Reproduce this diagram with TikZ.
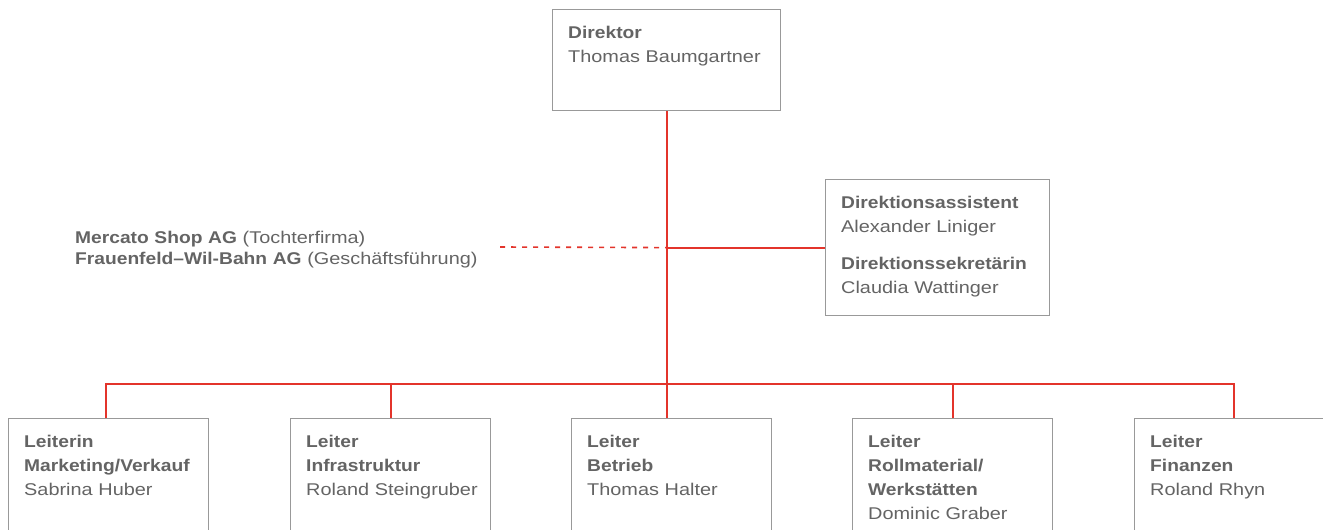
\documentclass[tikz,border=0pt]{standalone}
\usepackage{fontspec}
\setmainfont{Liberation Sans}[FakeStretch=1.17]
\newfontfamily\boldf{Liberation Sans Bold}[FakeStretch=1.13]
\newcommand{\bld}[1]{{\boldf #1}}
\definecolor{redline}{HTML}{E3342B}
\definecolor{boxgray}{HTML}{999999}
\definecolor{textgray}{HTML}{646464}
\tikzset{
  orgbox/.style={draw=boxgray, line width=1.2pt, inner sep=0pt, anchor=north west, fill=white},
  txt/.style={anchor=base west, inner sep=0pt, align=left, text=textgray, text width=#1,
    font=\fontsize{17}{24}\selectfont},
  txt/.default=220pt,
  conn/.style={draw=redline, line width=2pt},
  dashconn/.style={draw=redline, line width=1.6pt, dash pattern=on 5pt off 6pt},
}
\begin{document}
\begin{tikzpicture}[x=1pt,y=-1pt]
\useasboundingbox (0,0) rectangle (1323,530);
\clip (0,0) rectangle (1323,530);

% boxes
\node[orgbox, minimum width=228pt, minimum height=101pt] (dir) at (552,9) {};
\node[orgbox, minimum width=224pt, minimum height=136pt] (asst) at (825,179) {};
\node[orgbox, minimum width=200pt, minimum height=200pt] (b1) at (8,418) {};
\node[orgbox, minimum width=200pt, minimum height=200pt] (b2) at (290,418) {};
\node[orgbox, minimum width=200pt, minimum height=200pt] (b3) at (571,418) {};
\node[orgbox, minimum width=200pt, minimum height=200pt] (b4) at (852,418) {};
\node[orgbox, minimum width=200pt, minimum height=200pt] (b5) at (1134,418) {};

% texts
\node[txt] (tdir) at (568,38) {\bld{Direktor}\\Thomas Baumgartner};
\node[txt] (tasst) at (841,208) {\bld{Direktionsassistent}\\Alexander Liniger\\[13pt]\bld{Direktionssekretärin}\\Claudia Wattinger};
\node[txt=420pt, font=\fontsize{17}{21.5}\selectfont] (tsub) at (75,243) {\bld{Mercato Shop AG} (Tochterfirma)\\\bld{Frauenfeld–Wil-Bahn AG} (Geschäftsführung)};
\node[txt=190pt] (tb1) at (24,447) {\bld{Leiterin}\\\bld{Marketing/Verkauf}\\Sabrina Huber};
\node[txt=190pt] (tb2) at (306,447) {\bld{Leiter}\\\bld{Infrastruktur}\\Roland Steingruber};
\node[txt=190pt] (tb3) at (587,447) {\bld{Leiter}\\\bld{Betrieb}\\Thomas Halter};
\node[txt=190pt] (tb4) at (868,447) {\bld{Leiter}\\\bld{Rollmaterial/}\\\bld{Werkstätten}\\Dominic Graber};
\node[txt=190pt] (tb5) at (1150,447) {\bld{Leiter}\\\bld{Finanzen}\\Roland Rhyn};

% connectors
\coordinate (bus) at (666,384);
\coordinate (dashend) at (500,247);
\draw[conn] (dir.south) -- (dir.south |- b3.north);
\draw[conn] (dir.south |- asst.west) -- (asst.west);
\draw[dashconn] (dashend) -- (dir.south |- asst.west);
\draw[conn] ([xshift=-3pt]b1.north) |- (bus) -| ([xshift=-1pt]b5.north);
\draw[conn] (b2.north) -- (b2.north |- bus);
\draw[conn] (b4.north) -- (b4.north |- bus);
\end{tikzpicture}
\end{document}
